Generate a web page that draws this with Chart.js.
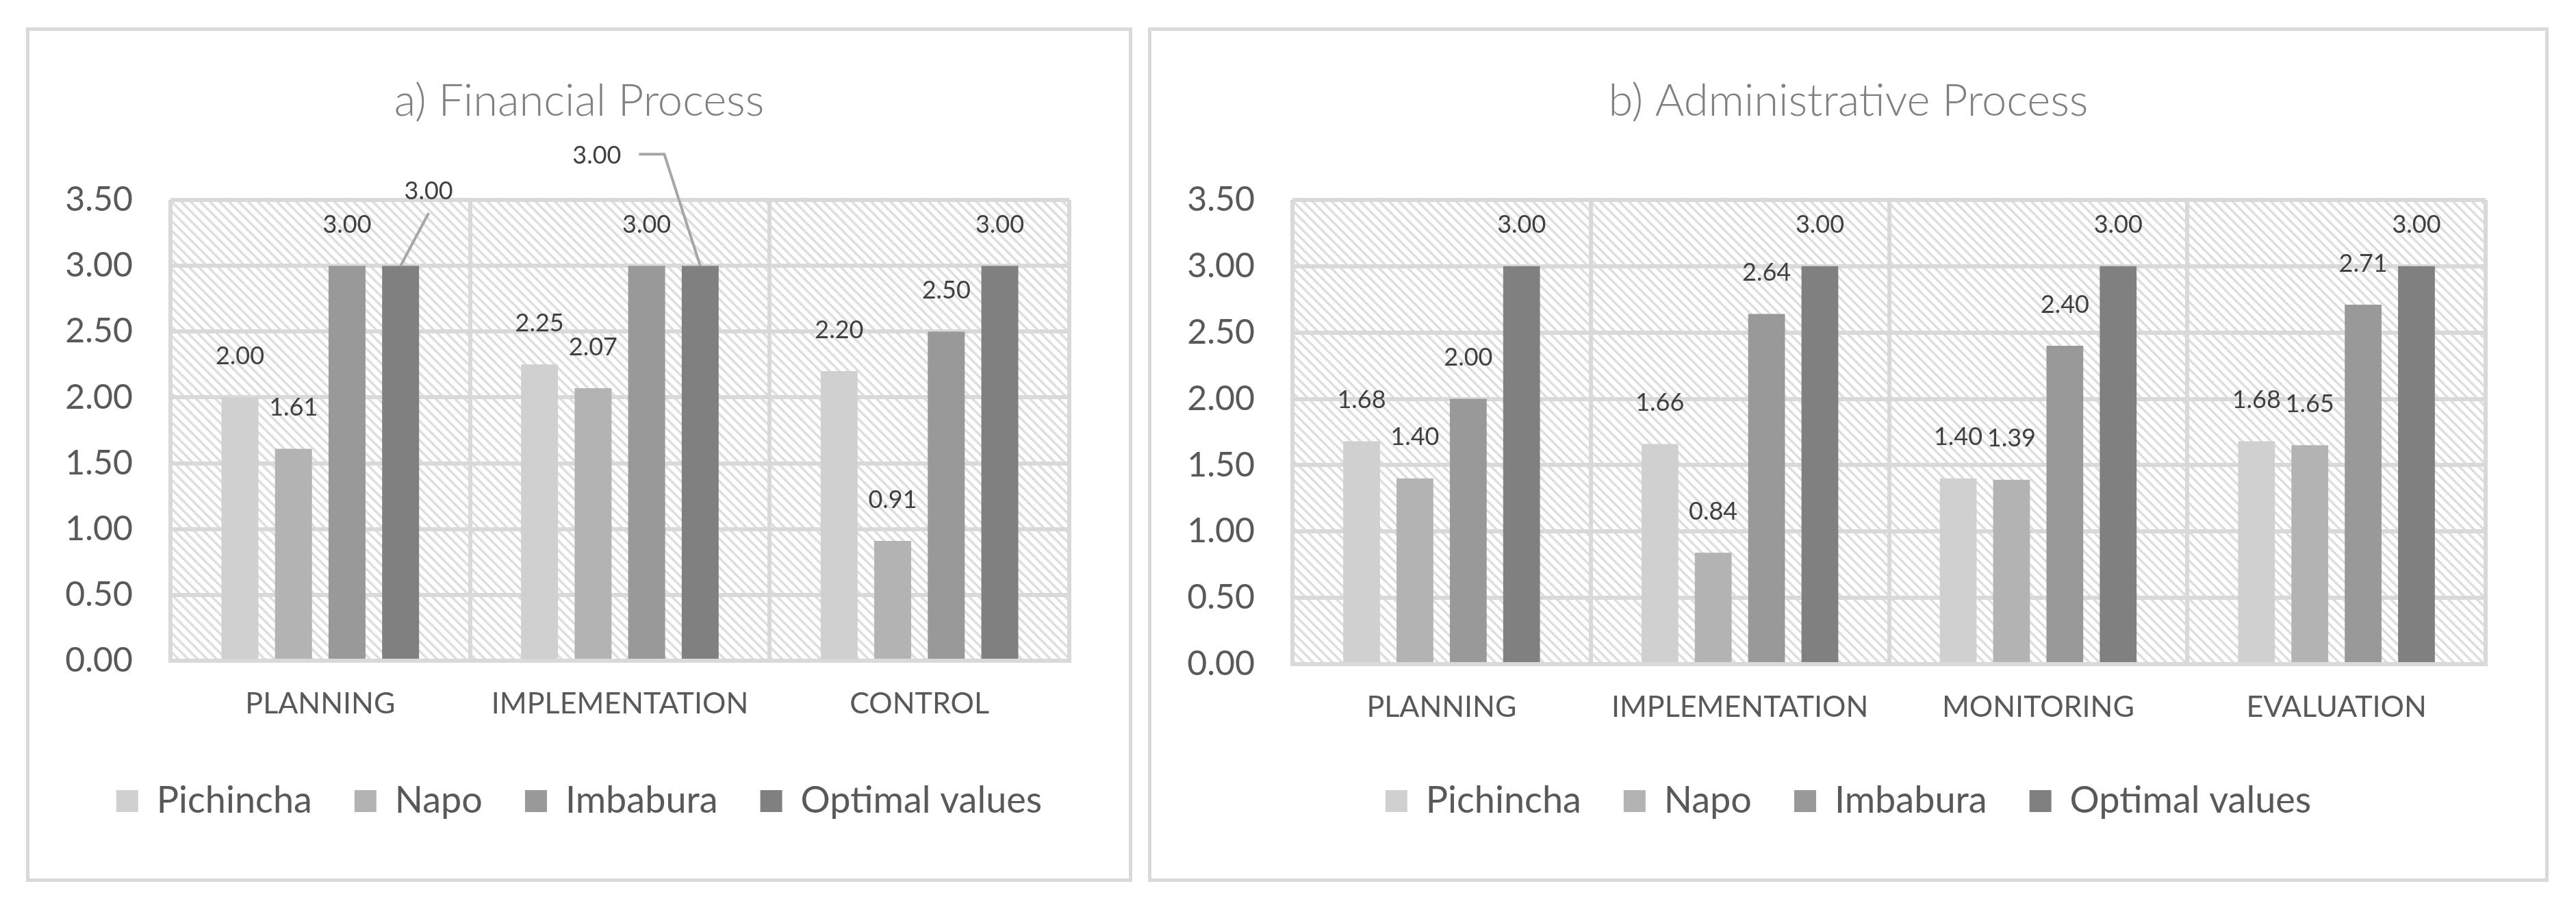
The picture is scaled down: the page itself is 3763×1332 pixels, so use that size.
<!DOCTYPE html>
<html>
<head>
<meta charset="utf-8">
<script src="https://cdn.jsdelivr.net/npm/chart.js@4.4.1/dist/chart.umd.min.js"></script>
<style>
  html, body { margin: 0; padding: 0; background: #fff; }
  body { width: 3763px; height: 1332px; position: relative; overflow: hidden; }
  .panel { position: absolute; border: 5px solid #d9d9d9; background: #fff; }
  .panel canvas { position: absolute; left: 0; top: 0; }
</style>
</head>
<body>
<div class="panel" id="panelA" style="left:38px; top:40px; width:1606px; height:1238px;">
  <canvas id="chartA" width="1606" height="1238"></canvas>
</div>
<div class="panel" id="panelB" style="left:1677px; top:40px; width:2036px; height:1238px;">
  <canvas id="chartB" width="2036" height="1238"></canvas>
</div>
<script>
// Series names and colours
const seriesNames = ['Pichincha', 'Napo', 'Imbabura', 'Optimal values'];
const seriesColors = ['#d0d0d0', '#b3b3b3', '#999999', '#808080'];

// a) Financial Process
const finCategories = ['PLANNING', 'IMPLEMENTATION', 'CONTROL'];
const finPichincha = [2.00, 2.25, 2.20];
const finNapo = [1.61, 2.07, 0.91];
const finImbabura = [3.00, 3.00, 2.50];
const finOptimal = [3.00, 3.00, 3.00];

// b) Administrative Process
const admCategories = ['PLANNING', 'IMPLEMENTATION', 'MONITORING', 'EVALUATION'];
const admPichincha = [1.68, 1.66, 1.40, 1.68];
const admNapo = [1.40, 0.84, 1.39, 1.65];
const admImbabura = [2.00, 2.64, 2.40, 2.71];
const admOptimal = [3.00, 3.00, 3.00, 3.00];

// y axis range
const yMin = 0;
const yMax = 3.5;
const yStep = 0.5;

const FONT = 'Lato, "Open Sans", sans-serif';

// diagonal hatch for the plot area
function makeHatch() {
    const size = 14;
    const c = document.createElement('canvas');
    c.width = size; c.height = size;
    const g = c.getContext('2d');
    g.fillStyle = '#ffffff';
    g.fillRect(0, 0, size, size);
    g.strokeStyle = '#dedede';
    g.lineWidth = 3.5;
    g.beginPath();
    g.moveTo(-2, -2); g.lineTo(size + 2, size + 2);
    g.moveTo(-2, size - 2); g.lineTo(2, size + 2);
    g.moveTo(size - 2, -2); g.lineTo(size + 2, 2);
    g.stroke();
    return g.createPattern(c, 'repeat');
}

const hatchPlugin = {
    id: 'hatch',
    beforeDraw(chart) {
        const {ctx, chartArea: a} = chart;
        ctx.save();
        ctx.fillStyle = makeHatch();
        ctx.fillRect(a.left, a.top, a.right - a.left, a.bottom - a.top);
        ctx.restore();
    }
};

// value labels above the bars, with optional moved labels and leader lines
const valueLabelPlugin = {
    id: 'valueLabels',
    afterDatasetsDraw(chart, args, opts) {
        const ctx = chart.ctx;
        const moves = opts.moves || [];
        ctx.save();
        ctx.font = '36px ' + FONT;
        ctx.fillStyle = '#404040';
        ctx.textAlign = 'center';
        ctx.textBaseline = 'middle';
        chart.data.datasets.forEach((ds, di) => {
            const meta = chart.getDatasetMeta(di);
            meta.data.forEach((bar, i) => {
                const text = ds.data[i].toFixed(2);
                const mv = moves.find(m => m.ds === di && m.i === i);
                let lx = bar.x, ly = bar.y - 60;
                if (mv) {
                    lx = bar.x + mv.dx;
                    ly = bar.y + mv.dy;
                    const half = ctx.measureText(text).width / 2;
                    ctx.save();
                    ctx.strokeStyle = '#a6a6a6';
                    ctx.lineWidth = 4;
                    ctx.beginPath();
                    if (mv.leader === 'below') {
                        ctx.moveTo(bar.x, bar.y);
                        ctx.lineTo(lx, ly + 32);
                    } else {
                        const sx = lx + half + 26;
                        ctx.moveTo(sx, ly - 2);
                        ctx.lineTo(sx + 37, ly - 2);
                        ctx.lineTo(bar.x, bar.y);
                    }
                    ctx.stroke();
                    ctx.restore();
                }
                ctx.fillText(text, lx, ly);
            });
        });
        ctx.restore();
    }
};

function makeChart(canvasId, title, categories, series, xHeight, moves) {
    const datasets = series.map((values, k) => ({
        label: seriesNames[k],
        data: values,
        backgroundColor: seriesColors[k],
        borderWidth: 0,
        categoryPercentage: 0.715,
        barPercentage: 0.69
    }));
    return new Chart(document.getElementById(canvasId), {
        type: 'bar',
        data: { labels: categories, datasets: datasets },
        plugins: [hatchPlugin, valueLabelPlugin],
        options: {
            responsive: false,
            animation: false,
            devicePixelRatio: 1,
            layout: { padding: { left: 0, right: 0, top: 0, bottom: 76 } },
            plugins: {
                title: {
                    display: true,
                    text: title,
                    color: '#808080',
                    font: { family: FONT, size: 65, weight: 300 },
                    padding: { top: 64, bottom: 105 }
                },
                legend: {
                    position: 'bottom',
                    labels: {
                        color: '#595959',
                        font: { family: FONT, size: 54 },
                        boxWidth: 32,
                        boxHeight: 32,
                        padding: 62
                    }
                },
                tooltip: { enabled: false },
                valueLabels: { moves: moves }
            },
            scales: {
                x: {
                    grid: { color: '#d9d9d9', lineWidth: 6, drawTicks: false, offset: true },
                    border: { color: '#d9d9d9', width: 6 },
                    ticks: {
                        color: '#595959',
                        font: { family: FONT, size: 43 },
                        padding: 37,
                        maxRotation: 0
                    },
                    afterFit: s => { s.height = xHeight; }
                },
                y: {
                    min: yMin,
                    max: yMax,
                    grid: { color: '#d9d9d9', lineWidth: 6, drawTicks: false },
                    border: { display: false },
                    ticks: {
                        stepSize: yStep,
                        color: '#595959',
                        font: { family: FONT, size: 50 },
                        padding: 55,
                        callback: v => Number(v).toFixed(2)
                    },
                    afterFit: s => { s.width = 206; }
                },
                // empty right margin so the title and legend centre on the whole panel
                yRight: {
                    position: 'right',
                    display: true,
                    grid: { display: false, drawTicks: false },
                    border: { display: false },
                    ticks: { display: false },
                    afterFit: s => { s.width = 87; }
                }
            }
        }
    });
}

// moved labels in the financial chart (Excel leader lines)
const finLabelMoves = [
    { ds: 3, i: 0, dx: 41, dy: -109, leader: 'below' },
    { ds: 3, i: 1, dx: -151, dy: -161, leader: 'side' }
];

makeChart('chartA', 'a) Financial Process', finCategories,
    [finPichincha, finNapo, finImbabura, finOptimal], 116, finLabelMoves);
makeChart('chartB', 'b) Administrative Process', admCategories,
    [admPichincha, admNapo, admImbabura, admOptimal], 111, []);
</script>
</body>
</html>
